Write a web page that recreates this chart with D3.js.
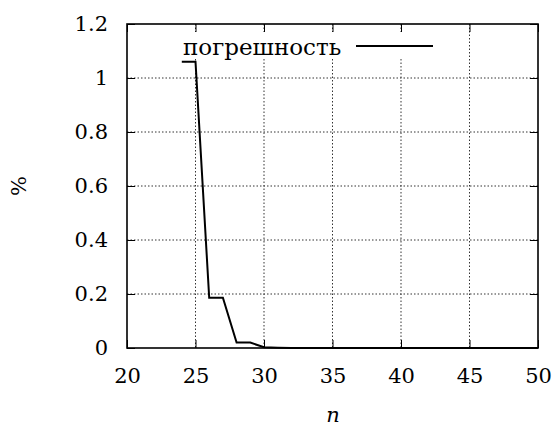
<!DOCTYPE html>
<html><head><meta charset="utf-8">
<script src="https://cdn.jsdelivr.net/npm/d3@7"></script>
<style>body{margin:0;background:#fff}svg{display:block}svg text{font-family:"DejaVu Serif","Liberation Serif","Noto Serif",serif !important;fill:#000}</style>
</head><body>
<svg id="c" width="553" height="427"></svg>
<script>
const nValues = [24, 25, 26, 27, 28, 29, 30, 31, 32, 35, 40, 45, 50];
const errValues = [1.06, 1.06, 0.186, 0.186, 0.02, 0.02, 0.003, 0.001, 0, 0, 0, 0, 0];
const xTicks = [20, 25, 30, 35, 40, 45, 50];
const yTicks = [0, 0.2, 0.4, 0.6, 0.8, 1, 1.2];
const legendLabel = "погрешность";
const xLabel = "n";
const yLabel = "%";

const svg = d3.select("#c");
const m = {l:127, r:538, t:24, b:348};
const x = d3.scaleLinear().domain([20,50]).range([m.l,m.r]);
const y = d3.scaleLinear().domain([0,1.2]).range([m.b,m.t]);
const fs = 21;

const g = svg.append("g");
g.selectAll(".gx").data(xTicks.slice(1,-1)).join("line")
  .attr("x1",d=>x(d)).attr("x2",d=>x(d)).attr("y1",m.t).attr("y2",m.b)
  .attr("stroke","#333").attr("stroke-width",1).attr("stroke-dasharray","1.5,2");
g.selectAll(".gy").data(yTicks.slice(1,-1)).join("line")
  .attr("x1",m.l).attr("x2",m.r).attr("y1",d=>y(d)).attr("y2",d=>y(d))
  .attr("stroke","#333").attr("stroke-width",1).attr("stroke-dasharray","1.5,2");

const xb = svg.append("g").attr("transform",`translate(0,${m.b})`)
  .call(d3.axisBottom(x).tickValues(xTicks).tickSize(-8).tickPadding(20).tickFormat(d3.format("d")));
const xt = svg.append("g").attr("transform",`translate(0,${m.t})`)
  .call(d3.axisTop(x).tickValues(xTicks).tickSize(-8).tickFormat(""));
const yl = svg.append("g").attr("transform",`translate(${m.l},0)`)
  .call(d3.axisLeft(y).tickValues(yTicks).tickSize(-8).tickPadding(19).tickFormat(d=>String(d)));
const yr = svg.append("g").attr("transform",`translate(${m.r},0)`)
  .call(d3.axisRight(y).tickValues(yTicks).tickSize(-8).tickFormat(""));
[xb,xt,yl,yr].forEach(a=>{
  a.select(".domain").remove();
  a.selectAll("line").attr("stroke","#000").attr("stroke-width",1);
  a.selectAll("text").attr("font-size",fs).attr("fill","#000");
});
xb.selectAll("text").attr("dy","0.71em");
svg.append("rect").attr("x",m.l).attr("y",m.t).attr("width",m.r-m.l).attr("height",m.b-m.t)
  .attr("fill","none").attr("stroke","#000").attr("stroke-width",1.6);

const line = d3.line().x((d,i)=>x(nValues[i])).y(d=>y(d));
svg.append("path").datum(errValues).attr("d",line)
  .attr("fill","none").attr("stroke","#000").attr("stroke-width",2).attr("stroke-linejoin","miter");

svg.append("rect").attr("x",178).attr("y",32).attr("width",262).attr("height",27).attr("fill","#fff");
svg.append("text").attr("x",183).attr("y",55).attr("font-size",23).text(legendLabel);
svg.append("line").attr("x1",356).attr("x2",433).attr("y1",46).attr("y2",46).attr("stroke","#000").attr("stroke-width",2);

svg.append("text").attr("x",333).attr("y",422).attr("text-anchor","middle")
  .attr("font-size",fs).attr("font-style","italic").text(xLabel);
svg.append("text").attr("transform",`translate(26,${(m.t+m.b)/2}) rotate(-90)`).attr("text-anchor","middle")
  .attr("font-size",fs).text(yLabel);
</script>
</body></html>
